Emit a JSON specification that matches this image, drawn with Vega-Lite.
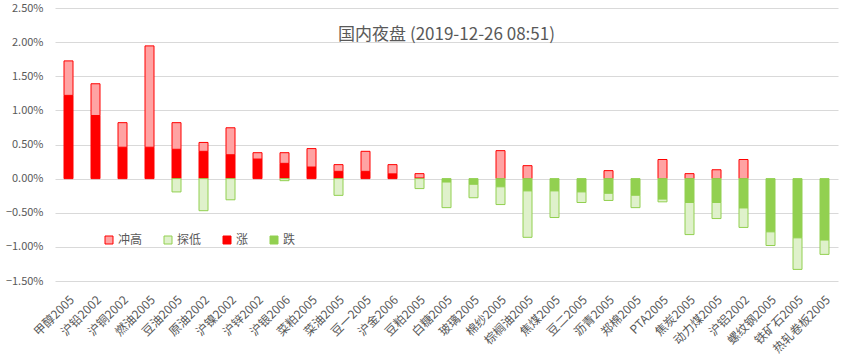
{
  "$schema": "https://vega.github.io/schema/vega-lite/v6.json",
  "autosize": "none",
  "width": 783,
  "height": 273,
  "padding": {"left": 55, "top": 8, "right": 29, "bottom": 81},
  "background": "white",
  "title": {
    "text": "国内夜盘 (2019-12-26 08:51)",
    "anchor": "middle",
    "fontSize": 17,
    "font": "Noto Sans CJK SC",
    "fontWeight": "normal",
    "color": "#595959",
    "offset": -42
  },
  "config": {
    "font": "Noto Sans CJK SC",
    "view": {"stroke": null},
    "axis": {"labelColor": "#595959", "gridColor": "#D9D9D9", "gridWidth": 1}
  },
  "data": {
    "values": [
      {"name": "甲醇2005", "series": "涨", "value": 0.0122},
      {"name": "甲醇2005", "series": "冲高", "value": 0.00505},
      {"name": "沪铅2002", "series": "涨", "value": 0.00925},
      {"name": "沪铅2002", "series": "冲高", "value": 0.00465},
      {"name": "沪铜2002", "series": "涨", "value": 0.0046},
      {"name": "沪铜2002", "series": "冲高", "value": 0.0036},
      {"name": "燃油2005", "series": "涨", "value": 0.0046},
      {"name": "燃油2005", "series": "冲高", "value": 0.01485},
      {"name": "豆油2005", "series": "涨", "value": 0.0043},
      {"name": "豆油2005", "series": "冲高", "value": 0.0039},
      {"name": "豆油2005", "series": "探低", "value": -0.00195},
      {"name": "原油2002", "series": "涨", "value": 0.004},
      {"name": "原油2002", "series": "冲高", "value": 0.0013},
      {"name": "原油2002", "series": "探低", "value": -0.0047},
      {"name": "沪镍2002", "series": "涨", "value": 0.0035},
      {"name": "沪镍2002", "series": "冲高", "value": 0.00395},
      {"name": "沪镍2002", "series": "探低", "value": -0.0031},
      {"name": "沪锌2002", "series": "涨", "value": 0.00287},
      {"name": "沪锌2002", "series": "冲高", "value": 0.00093},
      {"name": "沪银2006", "series": "涨", "value": 0.00224},
      {"name": "沪银2006", "series": "冲高", "value": 0.00156},
      {"name": "沪银2006", "series": "探低", "value": -0.0003},
      {"name": "菜粕2005", "series": "涨", "value": 0.0017},
      {"name": "菜粕2005", "series": "冲高", "value": 0.0027},
      {"name": "菜油2005", "series": "涨", "value": 0.00107},
      {"name": "菜油2005", "series": "冲高", "value": 0.00098},
      {"name": "菜油2005", "series": "探低", "value": -0.00245},
      {"name": "豆一2005", "series": "涨", "value": 0.00107},
      {"name": "豆一2005", "series": "冲高", "value": 0.00293},
      {"name": "沪金2006", "series": "涨", "value": 0.0007},
      {"name": "沪金2006", "series": "冲高", "value": 0.00135},
      {"name": "豆粕2005", "series": "涨", "value": 0.0001},
      {"name": "豆粕2005", "series": "冲高", "value": 0.00063},
      {"name": "豆粕2005", "series": "探低", "value": -0.00146},
      {"name": "白糖2005", "series": "跌", "value": -0.0005},
      {"name": "白糖2005", "series": "探低", "value": -0.00375},
      {"name": "玻璃2005", "series": "跌", "value": -0.00083},
      {"name": "玻璃2005", "series": "探低", "value": -0.00197},
      {"name": "棉纱2005", "series": "冲高", "value": 0.0041},
      {"name": "棉纱2005", "series": "跌", "value": -0.0012},
      {"name": "棉纱2005", "series": "探低", "value": -0.0026},
      {"name": "棕榈油2005", "series": "冲高", "value": 0.0019},
      {"name": "棕榈油2005", "series": "跌", "value": -0.0018},
      {"name": "棕榈油2005", "series": "探低", "value": -0.0068},
      {"name": "焦煤2005", "series": "跌", "value": -0.0018},
      {"name": "焦煤2005", "series": "探低", "value": -0.0039},
      {"name": "豆二2005", "series": "跌", "value": -0.00195},
      {"name": "豆二2005", "series": "探低", "value": -0.00155},
      {"name": "沥青2005", "series": "冲高", "value": 0.00117},
      {"name": "沥青2005", "series": "跌", "value": -0.00215},
      {"name": "沥青2005", "series": "探低", "value": -0.00105},
      {"name": "郑棉2005", "series": "跌", "value": -0.00244},
      {"name": "郑棉2005", "series": "探低", "value": -0.00181},
      {"name": "PTA2005", "series": "冲高", "value": 0.0028},
      {"name": "PTA2005", "series": "跌", "value": -0.003},
      {"name": "PTA2005", "series": "探低", "value": -0.0004},
      {"name": "焦炭2005", "series": "冲高", "value": 0.00073},
      {"name": "焦炭2005", "series": "跌", "value": -0.0035},
      {"name": "焦炭2005", "series": "探低", "value": -0.0047},
      {"name": "动力煤2005", "series": "冲高", "value": 0.0013},
      {"name": "动力煤2005", "series": "跌", "value": -0.0035},
      {"name": "动力煤2005", "series": "探低", "value": -0.00235},
      {"name": "沪铝2002", "series": "冲高", "value": 0.0028},
      {"name": "沪铝2002", "series": "跌", "value": -0.0043},
      {"name": "沪铝2002", "series": "探低", "value": -0.00285},
      {"name": "螺纹钢2005", "series": "跌", "value": -0.0078},
      {"name": "螺纹钢2005", "series": "探低", "value": -0.002},
      {"name": "铁矿石2005", "series": "跌", "value": -0.00868},
      {"name": "铁矿石2005", "series": "探低", "value": -0.00462},
      {"name": "热轧卷板2005", "series": "跌", "value": -0.009},
      {"name": "热轧卷板2005", "series": "探低", "value": -0.0021}
    ]
  },
  "mark": {"type": "bar", "size": 9, "strokeWidth": 1, "opacity": 1, "fillOpacity": 1},
  "encoding": {
    "x": {
      "field": "name",
      "type": "nominal",
      "sort": null,
      "scale": {"paddingInner": 0, "paddingOuter": 0},
      "axis": {
        "title": null,
        "domain": false,
        "ticks": false,
        "labelAngle": -45,
        "labelFontSize": 12,
        "labelPadding": 13,
        "grid": false
      }
    },
    "y": {
      "field": "value",
      "type": "quantitative",
      "stack": "zero",
      "scale": {"domain": [-0.015, 0.025], "nice": false},
      "axis": {
        "title": null,
        "format": ".2%",
        "values": [-0.015, -0.01, -0.005, 0, 0.005, 0.01, 0.015, 0.02, 0.025],
        "domain": false,
        "ticks": false,
        "labelFontSize": 11,
        "labelPadding": 12,
        "grid": true
      }
    },
    "order": {"field": "series", "sort": "descending"},
    "fill": {
      "field": "series",
      "type": "nominal",
      "scale": {"domain": ["冲高", "探低", "涨", "跌"], "range": ["#FFA3A3", "#DFF1CB", "#FF0000", "#92D050"]},
      "legend": {
        "title": null,
        "orient": "none",
        "direction": "horizontal",
        "legendX": 48,
        "legendY": 226,
        "symbolType": "square",
        "symbolSize": 64,
        "symbolStrokeWidth": 1,
        "labelFontSize": 12,
        "labelColor": "#595959",
        "labelOffset": 3,
        "columnPadding": 19
      }
    },
    "stroke": {
      "field": "series",
      "type": "nominal",
      "scale": {"domain": ["冲高", "探低", "涨", "跌"], "range": ["#FF0000", "#92D050", "#FF0000", "#92D050"]},
      "legend": {
        "title": null,
        "orient": "none",
        "direction": "horizontal",
        "legendX": 48,
        "legendY": 226,
        "symbolType": "square",
        "symbolSize": 64,
        "symbolStrokeWidth": 1,
        "labelFontSize": 12,
        "labelColor": "#595959",
        "labelOffset": 3,
        "columnPadding": 19
      }
    }
  }
}
